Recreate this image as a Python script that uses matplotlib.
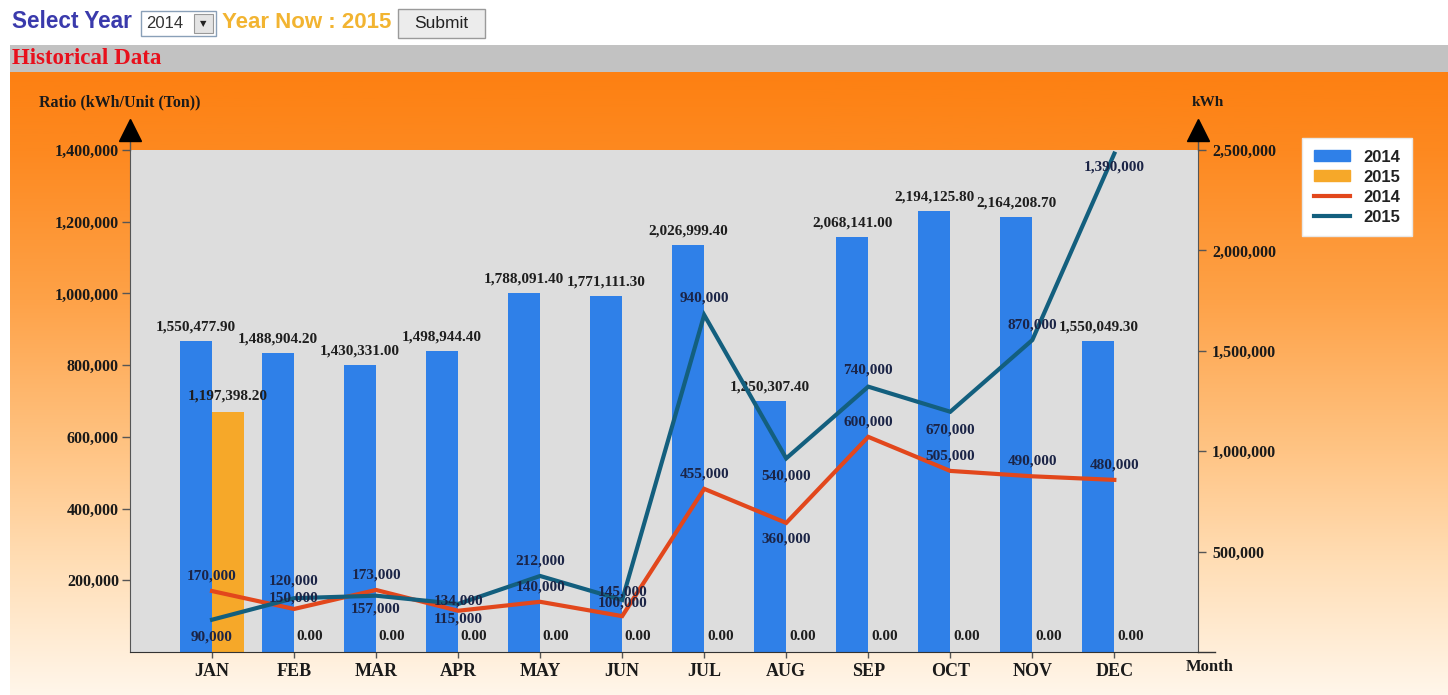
import numpy as np
import matplotlib
matplotlib.use("Agg")
import matplotlib.pyplot as plt
from matplotlib.patches import Rectangle, Patch
from matplotlib.lines import Line2D
from matplotlib.ticker import FuncFormatter

# ------------------------------------------------------------
# Data
# ------------------------------------------------------------
months = ['JAN', 'FEB', 'MAR', 'APR', 'MAY', 'JUN',
          'JUL', 'AUG', 'SEP', 'OCT', 'NOV', 'DEC']
kwh_2014 = [1550477.90, 1488904.20, 1430331.00, 1498944.40, 1788091.40, 1771111.30,
            2026999.40, 1250307.40, 2068141.00, 2194125.80, 2164208.70, 1550049.30]
kwh_2015 = [1197398.20, 0, 0, 0, 0, 0, 0, 0, 0, 0, 0, 0]
ratio_2014 = [170000, 120000, 173000, 115000, 140000, 100000,
              455000, 360000, 600000, 505000, 490000, 480000]
ratio_2015 = [90000, 150000, 157000, 134000, 212000, 145000,
              940000, 540000, 740000, 670000, 870000, 1390000]
series_names = ['2014', '2015']

# vertical offset (pixels, + = above) of each line value label
off_2014 = [15, 28, 15, -8, 15, 13, 15, -16, 15, 15, 15, 15]
off_2015 = [-17, 0, -13, 3, 15, 8, 17, -18, 17, -18, 15, -13]

BLUE = '#2f80e8'
ORANGE = '#f6a829'
RED = '#e2471c'
TEAL = '#135f7e'
SERIF = ['Liberation Serif', 'DejaVu Serif']
SANS = ['Liberation Sans', 'DejaVu Sans']

W, H = 1448, 695
fig = plt.figure(figsize=(W / 100, H / 100), dpi=100)

# ------------------------------------------------------------
# Page background (header, gray strip, orange panel)
# ------------------------------------------------------------
bg = fig.add_axes([0, 0, 1, 1])
bg.set_xlim(0, W)
bg.set_ylim(H, 0)
bg.axis('off')

ys = np.linspace(72, H, 300)
stops_y = [72, 150, 300, 450, 560, 695]
stops_c = np.array([[253, 128, 18], [253, 137, 32], [254, 162, 72],
                    [255, 196, 132], [255, 221, 180], [255, 246, 234]]) / 255
grad = np.stack([np.interp(ys, stops_y, stops_c[:, k]) for k in range(3)], axis=-1)
bg.imshow(grad[:, None, :], extent=(10, W, H, 72), aspect='auto', zorder=0)

bg.add_patch(Rectangle((10, 45), W - 10, 27, facecolor='#c2c2c2', edgecolor='none'))
bg.text(12, 59, 'Historical Data', color='#e8101c', fontsize=16.5, fontweight='bold',
        family=SERIF, va='center')

bg.text(12, 22, 'Select Year', color='#3a3aac', fontsize=16.3, fontweight='bold',
        family=SANS, va='center')
bg.add_patch(Rectangle((141, 11), 75, 25, facecolor='white', edgecolor='#8aa0b8', lw=1))
bg.text(146, 23.5, '2014', color='#333333', fontsize=12, family=SANS, va='center')
bg.add_patch(Rectangle((194, 14), 19, 19, facecolor='#e4e4e4', edgecolor='#999999', lw=0.8))
bg.text(203.5, 24, '\u25bc', color='#222222', fontsize=6, family=['DejaVu Sans'],
        ha='center', va='center')
bg.text(222, 22, 'Year Now : 2015', color='#f2b431', fontsize=16, fontweight='bold',
        family=SANS, va='center')
bg.add_patch(Rectangle((398, 9), 87, 29, facecolor='#ececec', edgecolor='#9a9a9a', lw=1))
bg.text(441.5, 24, 'Submit', color='#222222', fontsize=12.5, family=SANS,
        ha='center', va='center')

# ------------------------------------------------------------
# Chart
# ------------------------------------------------------------
left, right, top, bottom = 130, 1198, 150, 652
ax = fig.add_axes([left / W, 1 - bottom / H, (right - left) / W, (bottom - top) / H])
ax2 = ax.twinx()
ax.set_zorder(2)
ax2.set_zorder(1)
ax.patch.set_visible(False)
ax2.patch.set_visible(True)
ax2.set_facecolor('#dddddd')

x = np.arange(len(months))
bw = 0.39
ax2.bar(x - bw / 2, kwh_2014, bw, color=BLUE, zorder=2)
ax2.bar(x + bw / 2, kwh_2015, bw, color=ORANGE, zorder=2)
for xi, v in zip(x, kwh_2014):
    ax2.annotate(f'{v:,.2f}', (xi - bw / 2, v), xytext=(0, 14), textcoords='offset pixels',
                 ha='center', va='center', fontsize=11, fontweight='bold',
                 family=SERIF, color='#1e1e1e')
for xi, v in zip(x, kwh_2015):
    ax2.annotate(f'{v:,.2f}', (xi + bw / 2, v), xytext=(0, 16), textcoords='offset pixels',
                 ha='center', va='center', fontsize=11, fontweight='bold',
                 family=SERIF, color='#1e1e1e')

ax.plot(x, ratio_2014, color=RED, lw=3, zorder=3, solid_joinstyle='miter')
ax.plot(x, ratio_2015, color=TEAL, lw=3, zorder=4, solid_joinstyle='miter')
for vals, offs in ((ratio_2014, off_2014), (ratio_2015, off_2015)):
    for xi, v, o in zip(x, vals, offs):
        ax.annotate(f'{v:,.0f}', (xi, v), xytext=(0, o), textcoords='offset pixels',
                    ha='center', va='center', fontsize=11, fontweight='bold',
                    family=SERIF, color='#1b2446', zorder=5)

ax.set_xlim(-1.0, 12.02)
ax.set_ylim(0, 1400000)
ax2.set_ylim(0, 2500000)
ax.set_yticks(np.arange(200000, 1400001, 200000))
ax2.set_yticks(np.arange(500000, 2500001, 500000))
fmt = FuncFormatter(lambda v, p: f'{v:,.0f}')
ax.yaxis.set_major_formatter(fmt)
ax2.yaxis.set_major_formatter(fmt)
ax.set_xticks(x)
ax.set_xticklabels(months)

for a in (ax, ax2):
    for sp in a.spines.values():
        sp.set_visible(False)
    a.tick_params(labelsize=11.5, colors='#555555', labelcolor='#1a1a1a', length=6, width=1,
                  pad=2)
    for lab in a.get_yticklabels() + a.get_xticklabels():
        lab.set_fontfamily(SERIF)
        lab.set_fontweight('bold')
ax.tick_params(axis='x', labelsize=13, length=4, pad=4)
ax2.tick_params(axis='y', pad=4)
ax.spines['left'].set_visible(True)
ax.spines['left'].set_color('#555555')
ax.spines['bottom'].set_visible(True)
ax.spines['bottom'].set_color('#333333')
ax2.spines['right'].set_visible(True)
ax2.spines['right'].set_color('#555555')

# axis extensions with arrow heads
for xa in (0, 1):
    ax.plot([xa, xa], [1, 1.04], transform=ax.transAxes, color='#555555', lw=1, clip_on=False)
    ax.plot([xa], [1.04], transform=ax.transAxes, marker='^', ms=16, color='black',
            clip_on=False)
ax.plot([1, 1.016], [0, 0], transform=ax.transAxes, color='#333333', lw=1, clip_on=False)

ax.text(-0.01, 1.094, 'Ratio (kWh/Unit (Ton))', transform=ax.transAxes, ha='center',
        va='center', fontsize=11.5, fontweight='bold', family=SERIF, color='#1a1a1a')
ax.text(0.994, 1.094, 'kWh', transform=ax.transAxes, ha='left', va='center',
        fontsize=11, fontweight='bold', family=SERIF, color='#1a1a1a')
ax.text(0.989, -0.03, 'Month', transform=ax.transAxes, ha='left', va='center',
        fontsize=12, fontweight='bold', family=SERIF, color='#1a1a1a')

handles = [Patch(color=BLUE), Patch(color=ORANGE),
           Line2D([], [], color=RED, lw=3), Line2D([], [], color=TEAL, lw=3)]
labels = series_names + series_names
leg = fig.legend(handles, labels, loc='upper left',
                 bbox_to_anchor=(1302 / W, 1 - 138 / H), borderaxespad=0,
                 frameon=True, fancybox=False,
                 framealpha=1, edgecolor='#e8e8e8', facecolor='white',
                 prop={'family': SANS, 'size': 12, 'weight': 'bold'},
                 handlelength=2.2, handleheight=0.6, labelspacing=0.3, borderpad=0.7)
for t in leg.get_texts():
    t.set_color('#222222')

fig.savefig('out.png', dpi=100)
